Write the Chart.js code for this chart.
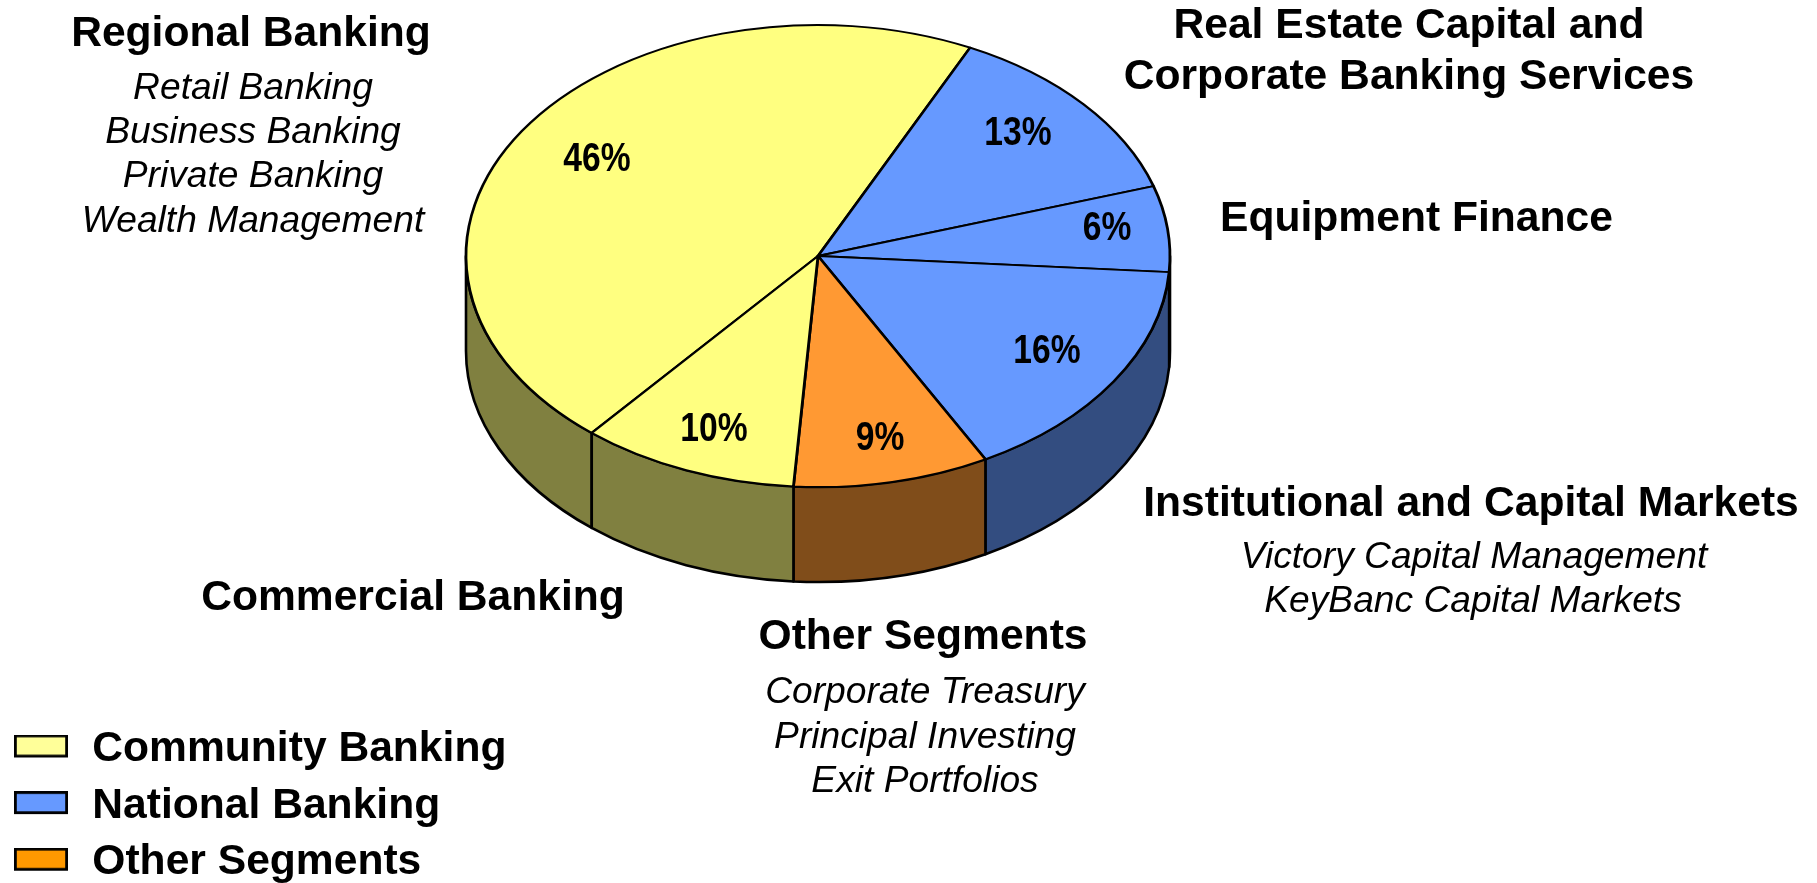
<!DOCTYPE html>
<html><head><meta charset="utf-8">
<style>html,body{margin:0;padding:0;background:#fff;overflow:hidden}canvas{display:block}</style>
<script src="https://cdn.jsdelivr.net/npm/chart.js@4"></script>
</head><body>
<canvas id="c" width="1817" height="883"></canvas>
<script>
// ---- data ----
const categories = ['Regional Banking','Real Estate Capital and Corporate Banking Services','Equipment Finance','Institutional and Capital Markets','Other Segments','Commercial Banking'];
const shares = [46,13,6,16,9,10];
const segmentOfSlice = [0,1,1,1,2,0];
const legendNames = ['Community Banking','National Banking','Other Segments'];

// ---- styles ----
const topColors = ['#FFFF80','#6699FF','#FF9933'];
const wallColors = ['#808040','#334D80','#804D1A'];
const legendColors = ['#FFFF99','#6699FF','#FF9900'];
const FONT = '"Liberation Sans", Arial, sans-serif';
const PIE = {cx:818, cy:256, rx:352, ry:231, depth:95};

const boldLabels = [
  ['Regional Banking',251,34],
  ['Real Estate Capital and',1409,26],
  ['Corporate Banking Services',1409,77],
  ['Equipment Finance',1416.5,219],
  ['Institutional and Capital Markets',1471,504],
  ['Commercial Banking',413,598],
  ['Other Segments',923,637]
];
const italicLabels = [
  ['Retail Banking',253,89],
  ['Business Banking',253,133],
  ['Private Banking',253,177],
  ['Wealth Management',253,222],
  ['Victory Capital Management',1474,558],
  ['KeyBanc Capital Markets',1473,602],
  ['Corporate Treasury',925,693],
  ['Principal Investing',925,738],
  ['Exit Portfolios',925,782]
];
const percentAnchors = [[597,160],[1018,134],[1107,229],[1047,352],[880,439],[714,430]];

function swatch(color){
  const s=document.createElement('canvas'); s.width=60; s.height=30;
  const g=s.getContext('2d');
  g.fillStyle=color; g.fillRect(3,0,54,23);
  g.strokeStyle='#000'; g.lineWidth=2.8; g.strokeRect(4.4,1.4,51.2,20.2);
  return s;
}
const swatches = legendColors.map(swatch);

const pie3d = {
  id:'pie3d',
  afterLayout(chart){
    const l=chart.legend;
    l.left-=3; l.right-=3;
    l.columnSizes[0].height+=1;
    l.bottom+=16;
  },
  beforeDatasetsDraw(chart){
    const ctx=chart.ctx, arcs=chart.getDatasetMeta(0).data, a0=arcs[0];
    const k=PIE.ry/PIE.rx;
    ctx.save();
    ctx.lineWidth=2.6; ctx.strokeStyle='#000'; ctx.lineJoin='round';
    arcs.forEach((arc,i)=>{
      const norm=x=>{const t=2*Math.PI;return ((x%t)+t)%t;};
      let s=norm(arc.startAngle), e=s+(arc.endAngle-arc.startAngle);
      const ranges=[[s,e],[s-2*Math.PI,e-2*Math.PI]];
      ranges.forEach(([p,q])=>{
        const from=Math.max(p,0), to=Math.min(q,Math.PI);
        if(to<=from) return;
        ctx.beginPath();
        ctx.ellipse(PIE.cx,PIE.cy,PIE.rx,PIE.ry,0,from,to);
        ctx.ellipse(PIE.cx,PIE.cy+PIE.depth,PIE.rx,PIE.ry,0,to,from,true);
        ctx.closePath();
        ctx.fillStyle=wallColors[segmentOfSlice[i]];
        ctx.fill(); ctx.stroke();
      });
    });
    ctx.restore();
    ctx.save();
    ctx.translate(PIE.cx,PIE.cy);
    ctx.scale(1,k);
    ctx.translate(-a0.x,-a0.y);
  },
  afterDatasetsDraw(chart){
    const ctx=chart.ctx;
    ctx.restore();
    ctx.save();
    ctx.fillStyle='#000'; ctx.textAlign='center'; ctx.textBaseline='middle';
    ctx.font='bold 42.6px '+FONT;
    boldLabels.forEach(([t,x,y])=>ctx.fillText(t,x,y));
    ctx.font='italic 37.2px '+FONT;
    italicLabels.forEach(([t,x,y])=>ctx.fillText(t,x,y));
    ctx.font='bold 41px '+FONT;
    shares.forEach((v,i)=>{
      const [x,y]=percentAnchors[i];
      ctx.save(); ctx.translate(x,y); ctx.scale(0.82,1);
      ctx.fillText(v+'%',0,0);
      ctx.restore();
    });
    ctx.restore();
  }
};

new Chart(document.getElementById('c'),{
  type:'pie',
  data:{labels:categories,datasets:[{
    data:shares,
    backgroundColor:segmentOfSlice.map(s=>topColors[s]),
    borderColor:'#000',
    borderWidth:2.8,
    borderJoinStyle:'round',
    radius:PIE.rx,
    clip:false
  }]},
  options:{
    responsive:false,
    animation:false,
    rotation:220,
    layout:{padding:0},
    events:[],
    plugins:{
      tooltip:{enabled:false},
      legend:{
        position:'left',
        align:'end',
        labels:{
          usePointStyle:true,
          pointStyleWidth:60,
          boxHeight:24,
          padding:14,
          color:'#000',
          font:{family:FONT,size:42.6,weight:'bold'},
          generateLabels:()=>legendNames.map((n,i)=>({text:n,pointStyle:swatches[i],fontColor:'#000',hidden:false,datasetIndex:0,index:i}))
        }
      }
    }
  },
  plugins:[pie3d]
});
</script>
</body></html>
